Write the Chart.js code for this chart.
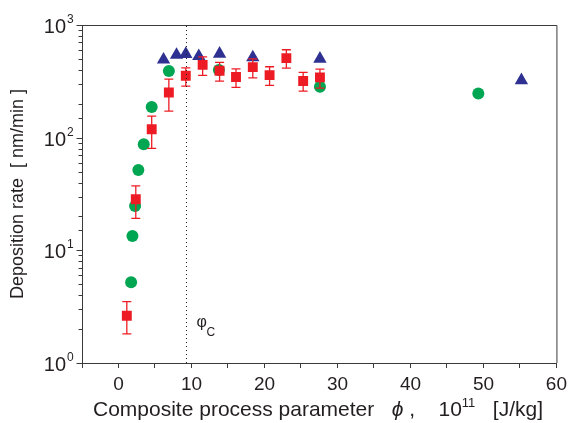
<!DOCTYPE html>
<html>
<head>
<meta charset="utf-8">
<script src="https://cdn.jsdelivr.net/npm/chart.js@4.4.0/dist/chart.umd.min.js"></script>
<style>
  body { margin: 0; background: #fff; }
</style>
</head>
<body>
<canvas id="myChart" width="572" height="423"></canvas>
<script>
// green circles
var greenX = [1.73, 1.91, 2.27, 2.72, 3.46, 4.55, 6.9, 13.75, 27.6, 49.3];
var greenY = [5.2, 13.4, 24.7, 51.6, 87.3, 187, 390, 398, 283, 247];
// red squares + error bars
var redX = [1.14, 2.37, 4.55, 6.9, 9.22, 11.53, 13.85, 16.1, 18.4, 20.7, 23.0, 25.3, 27.6];
var redY = [2.63, 28.4, 118.6, 252, 354, 443, 392, 345, 423, 359, 508, 318, 343];
var redHi = [3.5, 37.4, 155, 331, 417, 522, 466, 408, 501, 426, 603, 380, 406];
var redLo = [1.81, 19.2, 80.4, 172, 287, 357, 318, 279, 340, 291, 415, 259, 275];
// blue triangles
var blueX = [6.17, 7.95, 9.22, 11.0, 13.85, 18.4, 27.6, 55.2];
var blueY = [493, 543, 552, 528, 555, 515, 501, 323];
// critical value marker and axis labels
var phiC = 9.3;
var yExponents = [0, 1, 2, 3];
var xLabels = [0, 10, 20, 30, 40, 50, 60];

var RED = '#ed1c24', GREEN = '#00a651', BLUE = '#2e3192', INK = '#231f20', AXIS = '#3a3a3a';
var FONT = '"Liberation Sans", Arial, sans-serif';

function pts(xs, ys) {
    return xs.map(function (x, i) { return { x: x, y: ys[i] }; });
}

var extras = {
    id: 'extras',
    afterDatasetsDraw: function (chart) {
        var ctx = chart.ctx, sx = chart.scales.x, sy = chart.scales.y, a = chart.chartArea;
        ctx.save();
        // error bars
        ctx.strokeStyle = RED;
        ctx.lineWidth = 1.3;
        for (var i = 0; i < redX.length; i++) {
            var px = sx.getPixelForValue(redX[i]);
            var t = sy.getPixelForValue(redHi[i]), b = sy.getPixelForValue(redLo[i]);
            ctx.beginPath();
            ctx.moveTo(px, t); ctx.lineTo(px, b);
            ctx.moveTo(px - 4.5, t); ctx.lineTo(px + 4.5, t);
            ctx.moveTo(px - 4.5, b); ctx.lineTo(px + 4.5, b);
            ctx.stroke();
        }
        // dotted phi_c line
        var lx = Math.round(sx.getPixelForValue(phiC)) + 0.5;
        ctx.strokeStyle = INK;
        ctx.lineWidth = 1;
        ctx.setLineDash([1, 3]);
        ctx.beginPath();
        ctx.moveTo(lx, a.bottom); ctx.lineTo(lx, a.top);
        ctx.stroke();
        ctx.setLineDash([]);
        // box top/right
        ctx.strokeStyle = AXIS;
        ctx.beginPath();
        ctx.moveTo(a.left, a.top + 0.5); ctx.lineTo(a.right + 0.5, a.top + 0.5); ctx.lineTo(a.right + 0.5, a.bottom);
        ctx.stroke();
        // y tick marks, longer at decades
        var ax = Math.round(a.left) + 0.5;
        sy.ticks.forEach(function (tk) {
            var py = Math.round(sy.getPixelForValue(tk.value)) + 0.5;
            var major = Math.abs(Math.log10(tk.value) % 1) < 1e-6;
            ctx.beginPath();
            ctx.moveTo(ax, py); ctx.lineTo(ax - (major ? 6 : 4), py);
            ctx.stroke();
        });
        ctx.restore();
    },
    afterDraw: function (chart) {
        var ctx = chart.ctx, sx = chart.scales.x, sy = chart.scales.y;
        ctx.save();
        ctx.fillStyle = INK;
        ctx.textBaseline = 'alphabetic';
        // y tick labels 10^n
        yExponents.forEach(function (e) {
            var py = sy.getPixelForValue(Math.pow(10, e));
            ctx.font = '20px ' + FONT;
            ctx.textAlign = 'right';
            ctx.fillText('10', 66, py + 8);
            ctx.font = '12px ' + FONT;
            ctx.textAlign = 'left';
            ctx.fillText(String(e), 67, py - 2);
        });
        // phi_c label
        var lx = sx.getPixelForValue(phiC);
        ctx.textAlign = 'left';
        ctx.font = '16px ' + FONT;
        ctx.fillText('\u03c6', lx + 10, 327);
        ctx.font = '12px ' + FONT;
        ctx.fillText('C', lx + 20, 336);
        // x title with italic phi and superscript
        var parts = [
            ['Composite process parameter   ', '21px ' + FONT, 0],
            ['\u03d5', 'italic 21px ' + FONT, 0],
            [' ,    10', '21px ' + FONT, 0],
            ['11', '13px ' + FONT, -9],
            ['   [J/kg]', '21px ' + FONT, 0]
        ];
        var w = 0;
        parts.forEach(function (p) { ctx.font = p[1]; w += ctx.measureText(p[0]).width; });
        var x0 = 318 - w / 2;
        parts.forEach(function (p) {
            ctx.font = p[1];
            ctx.fillText(p[0], x0, 416 + p[2]);
            x0 += ctx.measureText(p[0]).width;
        });
        ctx.restore();
    }
};

var myChart = new Chart(document.getElementById('myChart').getContext('2d'), {
    type: 'scatter',
    data: {
        datasets: [
            { label: 'triangles', data: pts(blueX, blueY), pointStyle: 'triangle', pointRadius: 7.7,
              backgroundColor: BLUE, borderColor: BLUE, borderWidth: 0 },
            { label: 'squares', data: pts(redX, redY), pointStyle: 'rect', pointRadius: 7,
              backgroundColor: RED, borderColor: RED, borderWidth: 0 },
            { label: 'circles', data: pts(greenX, greenY), pointStyle: 'circle', pointRadius: 6,
              backgroundColor: GREEN, borderColor: GREEN, borderWidth: 0 }
        ]
    },
    options: {
        responsive: false,
        animation: false,
        layout: { padding: { top: 25, right: 13, left: 0, bottom: 0 } },
        plugins: { legend: { display: false }, tooltip: { enabled: false } },
        scales: {
            x: {
                type: 'linear', min: -5, max: 60,
                border: { color: AXIS, width: 1 },
                grid: { drawOnChartArea: false, tickLength: 5, color: AXIS },
                ticks: {
                    stepSize: 5, autoSkip: false, maxRotation: 0, padding: 5,
                    color: INK, font: { family: FONT, size: 19 },
                    callback: function (v) { return xLabels.indexOf(v) >= 0 ? String(v) : ''; }
                },
                afterFit: function (s) { s.height = 60; }
            },
            y: {
                type: 'logarithmic', min: 1, max: 1000,
                border: { color: AXIS, width: 1 },
                grid: { drawOnChartArea: false, drawTicks: false },
                ticks: { autoSkip: false, display: false },
                title: {
                    display: true, text: 'Deposition rate  [ nm/min ]', color: INK,
                    font: { family: FONT, size: 18 }, padding: { top: 7, bottom: 0 }
                },
                afterFit: function (s) { s.width = 82; }
            }
        }
    },
    plugins: [extras]
});
</script>
</body>
</html>
